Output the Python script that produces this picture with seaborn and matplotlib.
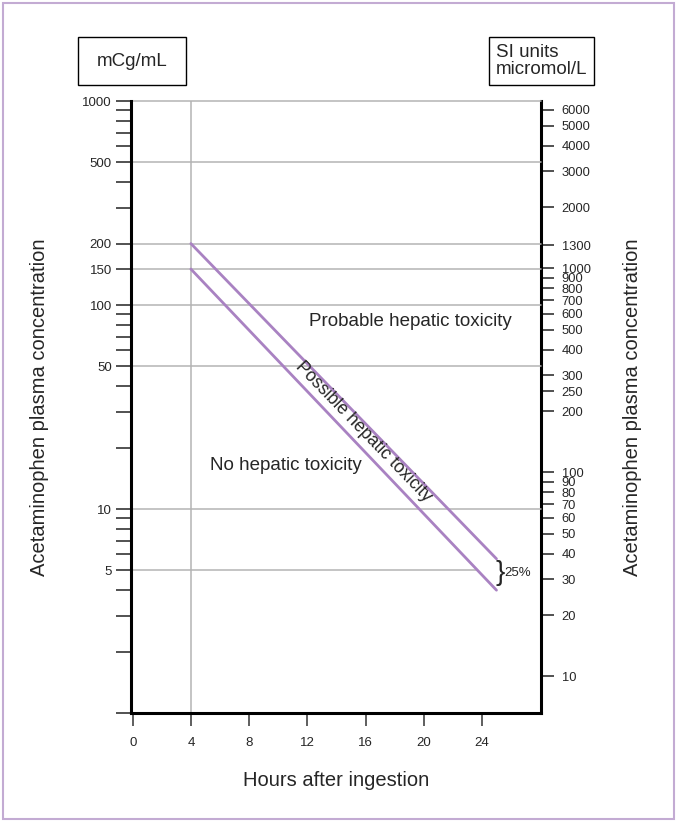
import numpy as np
import pandas as pd
import matplotlib
matplotlib.use("Agg")
import matplotlib.pyplot as plt
import seaborn as sns
from matplotlib.ticker import FixedLocator, NullFormatter, NullLocator
from matplotlib.patches import Rectangle

# ---------------- data ----------------
hours = [4, 25]
upper_line = [200, 5.7]      # mcg/mL
lower_line = [150, 4.0]      # mcg/mL (25% below)
x_ticks = [0, 4, 8, 12, 16, 20, 24]
left_major = [1000, 500, 200, 150, 100, 50, 10, 5]
left_minor = [900, 800, 700, 600, 400, 300, 90, 80, 70, 60, 40, 30, 20,
              9, 8, 7, 6, 4, 3, 2, 1]
right_ticks = [6000, 5000, 4000, 3000, 2000, 1300, 1000, 900, 800, 700, 600,
               500, 400, 300, 250, 200, 100, 90, 80, 70, 60, 50, 40, 30, 20, 10]
grid_full = [1000, 500, 200, 150, 100, 50, 10]
grid_partial = [5]
grid_vertical = [4]
UMOL_PER_MCG = 6.62

PURPLE = "#a982c2"
GRID = "#b4b4b4"

sns.set_style("ticks")
plt.rcParams["font.family"] = ["Liberation Sans", "DejaVu Sans"]

fig = plt.figure(figsize=(6.77, 8.22), dpi=100)
ax = fig.add_axes([131 / 677, 1 - 713 / 822, 410 / 677, 612 / 822])

ax.set_yscale("log")
ax.set_ylim(1, 1000)
ax.set_xlim(-0.117, 28.06)

# grid lines
for g in grid_full:
    ax.axhline(g, color=GRID, lw=1.1, zorder=1, clip_on=False)
for g in grid_vertical:
    ax.axvline(g, color=GRID, lw=1.1, zorder=1)
for g in grid_partial:
    xc = np.interp(np.log(g), np.log(lower_line[::-1]), hours[::-1])
    ax.hlines(g, ax.get_xlim()[0], xc, color=GRID, lw=1.1, zorder=1)

# nomogram lines
df = pd.DataFrame({
    "hours": hours + hours,
    "conc": upper_line + lower_line,
    "line": ["upper"] * 2 + ["lower"] * 2,
})
sns.lineplot(data=df, x="hours", y="conc", units="line", estimator=None,
             color=PURPLE, lw=2.0, ax=ax, zorder=3, legend=False)

# spines
for s in ["top", "right"]:
    ax.spines[s].set_visible(False)
for s in ["left", "bottom"]:
    ax.spines[s].set_linewidth(2.2)
    ax.spines[s].set_color("black")

# x ticks
ax.set_xticks(x_ticks)
ax.set_xticklabels([str(t) for t in x_ticks])
ax.tick_params(axis="x", direction="out", length=9, width=1.1, pad=8,
               labelsize=9.5, color="#333333")

# left y ticks
ax.yaxis.set_major_locator(FixedLocator(left_major))
ax.set_yticklabels([str(t) for t in left_major])
ax.yaxis.set_minor_locator(FixedLocator(left_minor))
ax.yaxis.set_minor_formatter(NullFormatter())
ax.tick_params(axis="y", which="both", direction="out", length=10.8, width=1.1,
               pad=3, labelsize=9.5, color="#222222")

ax.set_xlabel("Hours after ingestion", fontsize=14.5, va="center")
ax.xaxis.set_label_coords(0.5, (713 - 780) / 612)
ax.set_ylabel("Acetaminophen plasma concentration", fontsize=14.5, va="center")
ax.yaxis.set_label_coords((40 - 131) / 410, 0.5)

# right SI axis
sec = ax.secondary_yaxis("right", functions=(lambda v: v * UMOL_PER_MCG,
                                             lambda v: v / UMOL_PER_MCG))
sec.yaxis.set_major_locator(FixedLocator(right_ticks))
sec.set_yticklabels([str(t) for t in right_ticks])
sec.yaxis.set_minor_locator(NullLocator())
sec.tick_params(axis="y", direction="out", length=9.4, width=1.1, pad=5.5,
                labelsize=9.3, color="#222222")
sec.spines["right"].set_linewidth(2.2)
sec.spines["right"].set_color("black")
fig.text(632 / 677, 1 - 407 / 822, "Acetaminophen plasma concentration",
         fontsize=14.5, ha="center", va="center", rotation=90)

# region annotations
ax.text(19.1, 82.6, "Probable hepatic toxicity", fontsize=13.5,
        ha="center", va="center")
ax.text(10.55, 16.3, "No hepatic toxicity", fontsize=13.5,
        ha="center", va="center")
ax.text(15.88, 23.8, "Possible hepatic toxicity", fontsize=12.8,
        ha="center", va="center", rotation=-46, rotation_mode="anchor")
ax.text(25.25, 4.85, "}", fontsize=20, ha="center", va="center",
        fontweight="light")
ax.text(25.55, 4.85, "25%", fontsize=9.5, ha="left", va="center")

# unit boxes
fig.patches.append(Rectangle((78 / 677, 1 - 85 / 822), 108 / 677, 48 / 822,
                             transform=fig.transFigure, fill=False,
                             edgecolor="black", lw=1.0))
fig.text(132 / 677, 1 - 61 / 822, "mCg/mL", fontsize=13.5,
         ha="center", va="center")
fig.patches.append(Rectangle((489 / 677, 1 - 85 / 822), 105 / 677, 48 / 822,
                             transform=fig.transFigure, fill=False,
                             edgecolor="black", lw=1.0))
fig.text(496 / 677, 1 - 61 / 822, "SI units\nmicromol/L", fontsize=13.5,
         ha="left", va="center", linespacing=1.05)

# outer frame
fig.patches.append(Rectangle((3 / 677, 3 / 822), 671 / 677, 816 / 822,
                             transform=fig.transFigure, fill=False,
                             edgecolor="#c3abd3", lw=1.5))

fig.savefig("out.png", dpi=100)
